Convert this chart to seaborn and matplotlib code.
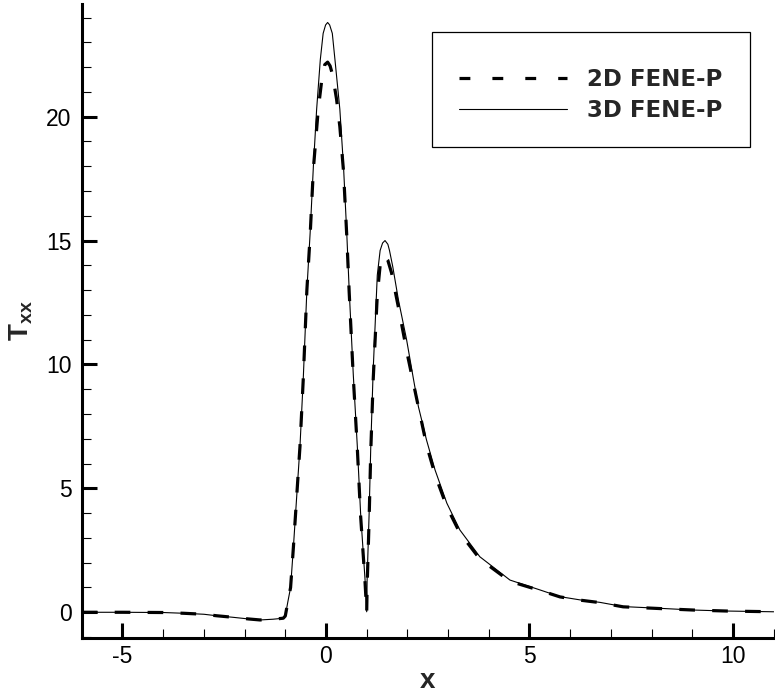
import matplotlib
matplotlib.use("Agg")
import matplotlib.pyplot as plt
import matplotlib.patches as mpatches
from matplotlib.lines import Line2D
from matplotlib.ticker import MultipleLocator
import numpy as np
import pandas as pd
import seaborn as sns

# Axial normal stress T_xx along the centreline, FENE-P model
x_3d = [-6.0, -5.0, -4.0, -3.5, -3.0, -2.69, -2.3, -1.9, -1.62, -1.3, -1.05,
        -1.0, -0.94, -0.87, -0.80, -0.72, -0.64, -0.56, -0.47, -0.39, -0.31,
        -0.23, -0.14, -0.07, -0.01, 0.04, 0.09, 0.155, 0.22, 0.34, 0.43, 0.51,
        0.57, 0.67, 0.77, 0.85, 0.96, 1.0, 1.01, 1.06, 1.10, 1.16, 1.26, 1.33,
        1.39, 1.45, 1.52, 1.56, 1.64, 1.78, 1.98, 2.15, 2.27, 2.47, 2.68, 2.97,
        3.29, 3.78, 4.52, 5.26, 5.75, 6.24, 6.73, 7.30, 8.2, 9.03, 9.85, 11.0]
t_3d = [0.0, 0.0, -0.01, -0.04, -0.08, -0.14, -0.2, -0.27, -0.31, -0.28, -0.24,
        -0.15, 0.4, 1.0, 2.65, 4.67, 6.68, 9.37, 13.0, 15.3, 18.0,
        20.3, 22.3, 23.36, 23.7, 23.8, 23.7, 23.36, 22.3, 20.3, 18.0, 15.3,
        13.0, 9.6, 6.68, 4.0, 1.3, 0.02, 1.3, 4.0, 6.68, 9.8, 13.6, 14.6,
        14.9, 15.0, 14.85, 14.6, 13.95, 12.6, 11.0, 9.4, 8.3, 6.95, 5.74, 4.4,
        3.32, 2.24, 1.30, 0.90, 0.63, 0.50, 0.40, 0.23, 0.16, 0.09, 0.05, 0.02]

x_2d = [-6.0, -5.0, -4.0, -3.5, -3.0, -2.69, -2.3, -1.9, -1.62, -1.3, -1.05,
        -1.0, -0.94, -0.87, -0.80, -0.72, -0.64, -0.56, -0.47, -0.39, -0.31,
        -0.19, -0.11, -0.03, 0.04, 0.10, 0.16, 0.26, 0.34, 0.43, 0.51, 0.57,
        0.67, 0.77, 0.85, 0.96, 1.0, 1.01, 1.06, 1.10, 1.16, 1.26, 1.33, 1.42,
        1.52, 1.61, 1.78, 2.0, 2.23, 2.47, 2.68, 2.97, 3.29, 3.78, 4.52, 5.26,
        5.75, 6.24, 6.73, 7.30, 8.2, 9.03, 9.85, 11.0]
t_2d = [0.0, 0.0, -0.01, -0.04, -0.08, -0.14, -0.2, -0.27, -0.31, -0.28, -0.24,
        -0.15, 0.4, 1.0, 2.65, 4.67, 6.68, 9.37, 13.0, 15.2, 17.9,
        20.3, 21.4, 22.1, 22.2, 22.05, 21.7, 20.7, 19.6, 17.8, 15.2, 12.9,
        9.5, 6.6, 3.9, 1.2, 0.0, 1.0, 3.8, 6.5, 9.4, 12.8, 14.0, 14.4,
        14.2, 13.7, 12.3, 10.4, 8.6, 6.75, 5.55, 4.25, 3.2, 2.15, 1.25, 0.88,
        0.62, 0.49, 0.39, 0.22, 0.15, 0.09, 0.05, 0.02]

series_labels = ["2D FENE-P", "3D FENE-P"]
x_ticks = [-5, 0, 5, 10]
y_ticks = [0, 5, 10, 15, 20]

sns.set_theme(style="ticks")
plt.rcParams["font.family"] = ["Liberation Sans", "DejaVu Sans"]
plt.rcParams["axes.unicode_minus"] = False
plt.rcParams["mathtext.fontset"] = "custom"
plt.rcParams["mathtext.bf"] = "Liberation Sans:bold"
plt.rcParams["mathtext.rm"] = "Liberation Sans"

fig = plt.figure(figsize=(7.75, 6.93), dpi=100)
W, H = 775.0, 693.0
ax = fig.add_axes([81.8 / W, (H - 637.8) / H, 691.9 / W, (637.8 - 3.9) / H])

df2 = pd.DataFrame({"x": x_2d, "T": t_2d})
df3 = pd.DataFrame({"x": x_3d, "T": t_3d})

sns.lineplot(data=df2, x="x", y="T", ax=ax, sort=False, estimator=None,
             color="black", lw=2.3)
ax.lines[-1].set_dashes((4.9, 5.4))
sns.lineplot(data=df3, x="x", y="T", ax=ax, sort=False, estimator=None,
             color="black", lw=0.8)

ax.set_xlim(-6, 11)
ax.set_ylim(-1.03, 24.55)
ax.set_xticks(x_ticks)
ax.set_yticks(y_ticks)
ax.xaxis.set_minor_locator(MultipleLocator(1))
ax.yaxis.set_minor_locator(MultipleLocator(1))
ax.tick_params(which="major", direction="in", length=10.5, width=2.2,
               labelsize=16.5, color="black", labelcolor="black")
ax.tick_params(axis="y", which="major", pad=7.4)
ax.tick_params(axis="x", which="major", pad=5)
ax.tick_params(which="minor", direction="in", length=6.5, width=0.8,
               color="black")

for side in ("top", "right"):
    ax.spines[side].set_visible(False)
for side in ("left", "bottom"):
    ax.spines[side].set_linewidth(2.2)
    ax.spines[side].set_color("black")

ax.set_xlabel("x", fontsize=20, fontweight="bold", labelpad=0)
ax.set_ylabel(r"$\mathbf{T}_{\mathbf{xx}}$", fontsize=20, labelpad=8)

handles = [Line2D([], [], color="black", lw=2.3, dashes=(3.4, 6.9)),
           Line2D([], [], color="black", lw=0.8)]
fs = 16.5
fs_px = fs * 100 / 72
leg = ax.legend(handles, series_labels, loc="center left",
                bbox_to_anchor=(459 / W, 1 - 95 / H),
                bbox_transform=fig.transFigure, frameon=False,
                borderpad=0, borderaxespad=0, handlelength=108 / fs_px,
                handletextpad=20 / fs_px, labelspacing=0.33,
                prop={"family": "DejaVu Sans", "size": fs, "weight": "bold"})
fig.add_artist(mpatches.Rectangle((432 / W, 1 - 147 / H), (750 - 432) / W,
                                  (147 - 32) / H, transform=fig.transFigure,
                                  fill=False, lw=0.9, ec="black"))

fig.savefig("out.png", dpi=100)
